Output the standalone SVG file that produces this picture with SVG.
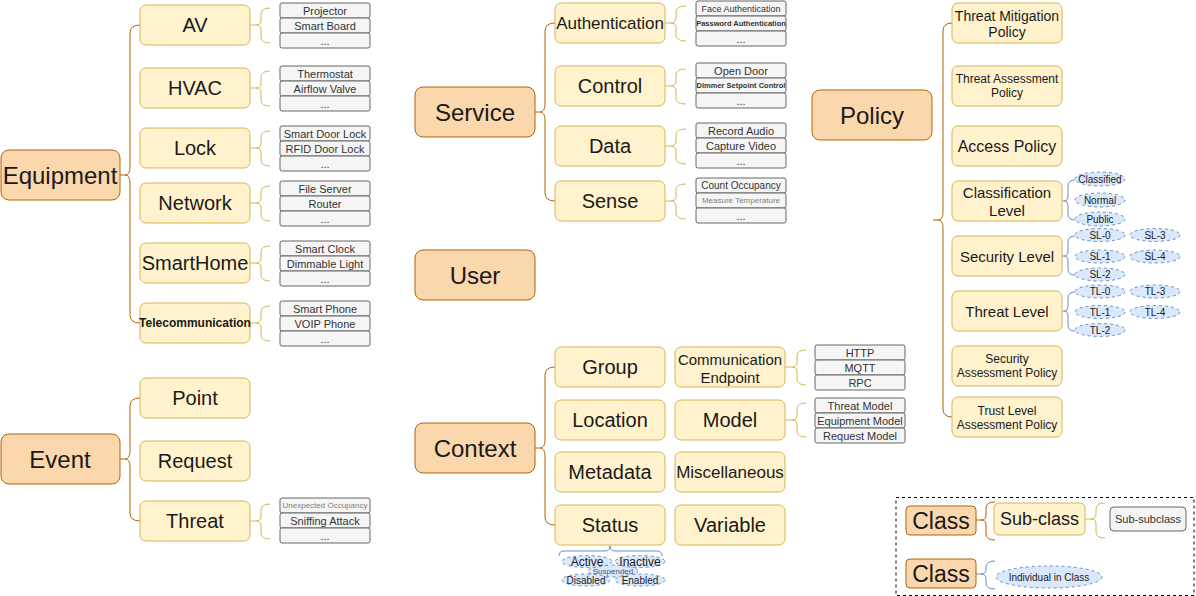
<svg xmlns="http://www.w3.org/2000/svg" width="1196" height="596" viewBox="0 0 1196 596">
<style>
.main{fill:#fad7ac;stroke:#b46504;stroke-width:1}
.sub{fill:#fff2cc;stroke:#d6b656;stroke-width:1}
.leaf{fill:#f5f5f5;stroke:#666666;stroke-width:1}
.ind{fill:#dae8fc;stroke:#6c8ebf;stroke-width:1;stroke-dasharray:3 3}
.bo{fill:none;stroke:#b46504;stroke-width:1}
.by{fill:none;stroke:#d6b656;stroke-width:1}
.bb{fill:none;stroke:#6c8ebf;stroke-width:1}
text{font-family:"Liberation Sans",Arial,sans-serif;text-anchor:middle;dominant-baseline:central;fill:#1a1a1a}
.t24{font-size:24px}.t23{font-size:23px}.t20{font-size:20px}.t18{font-size:18px}.t17{font-size:17px}.t16{font-size:16px}.t15{font-size:15px}.t14{font-size:14px}.t12{font-size:12px}
.l{font-size:11px;fill:#333333}.l10{font-size:10px;fill:#333333}.l9{font-size:9px;fill:#333333}.l8{font-size:8px;fill:#808080}.lb{font-size:7.5px;font-weight:bold;fill:#333333}
.e10{font-size:10px}.e12{font-size:12px}.e8{font-size:8px;fill:#555}
</style>
<g id="connectors">
<path class="bo" d="M140,25 Q130,25 130,33 V167 Q130,175 125,175 H120 M125,175 Q130,175 130,183 V315 Q130,323 140,323"/>
<path class="bo" d="M140,398 Q130,398 130,406 V451 Q130,459 125,459 H120 M125,459 Q130,459 130,467 V513 Q130,521 140,521"/>
<path class="bo" d="M555,23 Q545,23 545,31 V104 Q545,112 540,112 H535 M540,112 Q545,112 545,120 V193 Q545,201 555,201"/>
<path class="bo" d="M555,367 Q545,367 545,375 V440 Q545,448 540,448 H535 M540,448 Q545,448 545,456 V517 Q545,525 555,525"/>
<path class="bo" d="M952,23 Q943,23 943,31 V212 Q943,220 938,220 H933 M938,220 Q943,220 943,228 V409 Q943,417 952,417"/>
<path class="by" d="M270,8 Q261,8 261,14 V20 Q261,25 256,25 H250 M256,25 Q261,25 261,30 V37 Q261,43 270,43"/>
<path class="by" d="M270,71 Q261,71 261,77 V83 Q261,88 256,88 H250 M256,88 Q261,88 261,93 V100 Q261,106 270,106"/>
<path class="by" d="M270,131 Q261,131 261,137 V143 Q261,148 256,148 H250 M256,148 Q261,148 261,153 V160 Q261,166 270,166"/>
<path class="by" d="M270,186 Q261,186 261,192 V198 Q261,203 256,203 H250 M256,203 Q261,203 261,208 V215 Q261,221 270,221"/>
<path class="by" d="M270,246 Q261,246 261,252 V258 Q261,263 256,263 H250 M256,263 Q261,263 261,268 V275 Q261,281 270,281"/>
<path class="by" d="M270,306 Q261,306 261,312 V318 Q261,323 256,323 H250 M256,323 Q261,323 261,328 V335 Q261,341 270,341"/>
<path class="by" d="M270,504 Q261,504 261,510 V516 Q261,521 256,521 H250 M256,521 Q261,521 261,526 V533 Q261,539 270,539"/>
<path class="by" d="M686,6 Q676,6 676,12 V18 Q676,23 671,23 H665 M671,23 Q676,23 676,28 V35 Q676,41 686,41"/>
<path class="by" d="M686,69 Q676,69 676,75 V81 Q676,86 671,86 H665 M671,86 Q676,86 676,91 V98 Q676,104 686,104"/>
<path class="by" d="M686,129 Q676,129 676,135 V141 Q676,146 671,146 H665 M671,146 Q676,146 676,151 V158 Q676,164 686,164"/>
<path class="by" d="M686,184 Q676,184 676,190 V196 Q676,201 671,201 H665 M671,201 Q676,201 676,206 V213 Q676,219 686,219"/>
<path class="by" d="M806,350 Q797,350 797,356 V362 Q797,367 792,367 H785 M792,367 Q797,367 797,372 V379 Q797,385 806,385"/>
<path class="by" d="M806,403 Q797,403 797,409 V415 Q797,420 792,420 H785 M792,420 Q797,420 797,425 V431 Q797,437 806,437"/>
<path class="bb" d="M1075,180 Q1068,180 1068,186 V196 Q1068,201 1064,201 H1062 M1064,201 Q1068,201 1068,206 V214 Q1068,220 1075,220"/>
<path class="bb" d="M1075,236 Q1068,236 1068,242 V251 Q1068,256 1064,256 H1062 M1064,256 Q1068,256 1068,261 V269 Q1068,275 1075,275"/>
<path class="bb" d="M1075,292 Q1068,292 1068,298 V306 Q1068,311 1064,311 H1062 M1064,311 Q1068,311 1068,316 V325 Q1068,331 1075,331"/>
<path class="bb" d="M559,556 Q559,551 564,551 H605 Q610,551 610,546 Q610,551 615,551 H657 Q662,551 662,556"/>
<path class="bo" d="M995,502 Q986,502 986,508 V515 Q986,520 981,520 H976 M981,520 Q986,520 986,525 V534 Q986,540 995,540"/>
<path class="by" d="M1105,503 Q1096,503 1096,509 V514 Q1096,519 1091,519 H1085 M1091,519 Q1096,519 1096,524 V532 Q1096,538 1105,538"/>
<path class="bb" d="M995,561 Q986,561 986,567 V569 Q986,574 981,574 H976 M981,574 Q986,574 986,579 V583 Q986,589 995,589"/>
</g>

<g id="equipment"><rect class="main" x="1" y="150" width="119" height="50" rx="8"/><text class="t24" x="60" y="175">Equipment</text></g>
<g id="event"><rect class="main" x="1" y="434" width="119" height="50" rx="8"/><text class="t24" x="60" y="459">Event</text></g>
<g id="service"><rect class="main" x="415" y="87" width="120" height="50" rx="8"/><text class="t24" x="475" y="112">Service</text></g>
<g id="user"><rect class="main" x="415" y="250" width="120" height="50" rx="8"/><text class="t24" x="475" y="275">User</text></g>
<g id="context"><rect class="main" x="415" y="423" width="120" height="50" rx="8"/><text class="t24" x="475" y="448">Context</text></g>
<g id="policy"><rect class="main" x="812" y="90" width="120" height="50" rx="8"/><text class="t24" x="872" y="115">Policy</text></g>

<g id="av"><rect class="sub" x="140" y="5" width="110" height="40" rx="6"/><text class="t20" x="195" y="25">AV</text></g>
<g id="hvac"><rect class="sub" x="140" y="68" width="110" height="40" rx="6"/><text class="t20" x="195" y="88">HVAC</text></g>
<g id="lock"><rect class="sub" x="140" y="128" width="110" height="40" rx="6"/><text class="t20" x="195" y="148">Lock</text></g>
<g id="network"><rect class="sub" x="140" y="183" width="110" height="40" rx="6"/><text class="t20" x="195" y="203">Network</text></g>
<g id="smarthome"><rect class="sub" x="140" y="243" width="110" height="40" rx="6"/><text class="t20" x="195" y="263">SmartHome</text></g>
<g id="telecom"><rect class="sub" x="140" y="303" width="110" height="40" rx="6"/><text class="t12" x="195" y="323" font-weight="bold">Telecommunication</text></g>
<g id="point"><rect class="sub" x="140" y="378" width="110" height="40" rx="6"/><text class="t20" x="195" y="398">Point</text></g>
<g id="request"><rect class="sub" x="140" y="441" width="110" height="40" rx="6"/><text class="t20" x="195" y="461">Request</text></g>
<g id="threat"><rect class="sub" x="140" y="501" width="110" height="40" rx="6"/><text class="t20" x="195" y="521">Threat</text></g>

<g id="av-leaves">
<rect class="leaf" x="280" y="3" width="90" height="15" rx="2"/><text class="l" x="325" y="10.5">Projector</text>
<rect class="leaf" x="280" y="18" width="90" height="15" rx="2"/><text class="l" x="325" y="25.5">Smart Board</text>
<rect class="leaf" x="280" y="33" width="90" height="15" rx="2"/><text class="l" x="325" y="40.5">...</text>
</g>
<g id="hvac-leaves">
<rect class="leaf" x="280" y="66" width="90" height="15" rx="2"/><text class="l" x="325" y="73.5">Thermostat</text>
<rect class="leaf" x="280" y="81" width="90" height="15" rx="2"/><text class="l" x="325" y="88.5">Airflow Valve</text>
<rect class="leaf" x="280" y="96" width="90" height="15" rx="2"/><text class="l" x="325" y="103.5">...</text>
</g>
<g id="lock-leaves">
<rect class="leaf" x="280" y="126" width="90" height="15" rx="2"/><text class="l" x="325" y="133.5">Smart Door Lock</text>
<rect class="leaf" x="280" y="141" width="90" height="15" rx="2"/><text class="l" x="325" y="148.5">RFID Door Lock</text>
<rect class="leaf" x="280" y="156" width="90" height="15" rx="2"/><text class="l" x="325" y="163.5">...</text>
</g>
<g id="network-leaves">
<rect class="leaf" x="280" y="181" width="90" height="15" rx="2"/><text class="l" x="325" y="188.5">File Server</text>
<rect class="leaf" x="280" y="196" width="90" height="15" rx="2"/><text class="l" x="325" y="203.5">Router</text>
<rect class="leaf" x="280" y="211" width="90" height="15" rx="2"/><text class="l" x="325" y="218.5">...</text>
</g>
<g id="smarthome-leaves">
<rect class="leaf" x="280" y="241" width="90" height="15" rx="2"/><text class="l" x="325" y="248.5">Smart Clock</text>
<rect class="leaf" x="280" y="256" width="90" height="15" rx="2"/><text class="l" x="325" y="263.5">Dimmable Light</text>
<rect class="leaf" x="280" y="271" width="90" height="15" rx="2"/><text class="l" x="325" y="278.5">...</text>
</g>
<g id="telecom-leaves">
<rect class="leaf" x="280" y="301" width="90" height="15" rx="2"/><text class="l" x="325" y="308.5">Smart Phone</text>
<rect class="leaf" x="280" y="316" width="90" height="15" rx="2"/><text class="l" x="325" y="323.5">VOIP Phone</text>
<rect class="leaf" x="280" y="331" width="90" height="15" rx="2"/><text class="l" x="325" y="338.5">...</text>
</g>
<g id="threat-leaves">
<rect class="leaf" x="280" y="498" width="90" height="15" rx="2"/><text class="l8" x="325" y="505.5">Unexpected Occupancy</text>
<rect class="leaf" x="280" y="513" width="90" height="15" rx="2"/><text class="l" x="325" y="520.5">Sniffing Attack</text>
<rect class="leaf" x="280" y="528" width="90" height="15" rx="2"/><text class="l" x="325" y="535.5">...</text>
</g>

<g id="authentication"><rect class="sub" x="555" y="3" width="110" height="40" rx="6"/><text class="t17" x="610" y="23">Authentication</text></g>
<g id="control"><rect class="sub" x="555" y="66" width="110" height="40" rx="6"/><text class="t20" x="610" y="86">Control</text></g>
<g id="data"><rect class="sub" x="555" y="126" width="110" height="40" rx="6"/><text class="t20" x="610" y="146">Data</text></g>
<g id="sense"><rect class="sub" x="555" y="181" width="110" height="40" rx="6"/><text class="t20" x="610" y="201">Sense</text></g>

<g id="auth-leaves">
<rect class="leaf" x="696" y="1" width="90" height="15" rx="2"/><text class="l9" x="741" y="8.5">Face Authentication</text>
<rect class="leaf" x="696" y="16" width="90" height="15" rx="2"/><text class="lb" x="741" y="23.5">Password Authentication</text>
<rect class="leaf" x="696" y="31" width="90" height="15" rx="2"/><text class="l" x="741" y="38.5">...</text>
</g>
<g id="control-leaves">
<rect class="leaf" x="696" y="63" width="90" height="15" rx="2"/><text class="l" x="741" y="70.5">Open Door</text>
<rect class="leaf" x="696" y="78" width="90" height="15" rx="2"/><text class="lb" x="741" y="85.5">Dimmer Setpoint Control</text>
<rect class="leaf" x="696" y="93" width="90" height="15" rx="2"/><text class="l" x="741" y="100.5">...</text>
</g>
<g id="data-leaves">
<rect class="leaf" x="696" y="123" width="90" height="15" rx="2"/><text class="l" x="741" y="130.5">Record Audio</text>
<rect class="leaf" x="696" y="138" width="90" height="15" rx="2"/><text class="l" x="741" y="145.5">Capture Video</text>
<rect class="leaf" x="696" y="153" width="90" height="15" rx="2"/><text class="l" x="741" y="160.5">...</text>
</g>
<g id="sense-leaves">
<rect class="leaf" x="696" y="178" width="90" height="15" rx="2"/><text class="l10" x="741" y="185.5">Count Occupancy</text>
<rect class="leaf" x="696" y="193" width="90" height="15" rx="2"/><text class="l8" x="741" y="200.5">Measure Temperature</text>
<rect class="leaf" x="696" y="208" width="90" height="15" rx="2"/><text class="l" x="741" y="215.5">...</text>
</g>

<g id="group"><rect class="sub" x="555" y="347" width="110" height="40" rx="6"/><text class="t20" x="610" y="367">Group</text></g>
<g id="location"><rect class="sub" x="555" y="400" width="110" height="40" rx="6"/><text class="t20" x="610" y="420">Location</text></g>
<g id="metadata"><rect class="sub" x="555" y="452" width="110" height="40" rx="6"/><text class="t20" x="610" y="472">Metadata</text></g>
<g id="status"><rect class="sub" x="555" y="505" width="110" height="40" rx="6"/><text class="t20" x="610" y="525">Status</text></g>
<g id="comm-endpoint"><rect class="sub" x="675" y="347" width="110" height="40" rx="6"/><text class="t15" x="730" y="359">Communication</text><text class="t15" x="730" y="377">Endpoint</text></g>
<g id="model"><rect class="sub" x="675" y="400" width="110" height="40" rx="6"/><text class="t20" x="730" y="420">Model</text></g>
<g id="misc"><rect class="sub" x="675" y="452" width="110" height="40" rx="6"/><text class="t17" x="730" y="472">Miscellaneous</text></g>
<g id="variable"><rect class="sub" x="675" y="505" width="110" height="40" rx="6"/><text class="t20" x="730" y="525">Variable</text></g>

<g id="comm-leaves">
<rect class="leaf" x="815" y="345" width="90" height="15" rx="2"/><text class="l" x="860" y="352.5">HTTP</text>
<rect class="leaf" x="815" y="360" width="90" height="15" rx="2"/><text class="l" x="860" y="367.5">MQTT</text>
<rect class="leaf" x="815" y="375" width="90" height="15" rx="2"/><text class="l" x="860" y="382.5">RPC</text>
</g>
<g id="model-leaves">
<rect class="leaf" x="815" y="398" width="90" height="15" rx="2"/><text class="l" x="860" y="405.5">Threat Model</text>
<rect class="leaf" x="815" y="413" width="90" height="15" rx="2"/><text class="l" x="860" y="420.5">Equipment Model</text>
<rect class="leaf" x="815" y="428" width="90" height="15" rx="2"/><text class="l" x="860" y="435.5">Request Model</text>
</g>

<g id="status-individuals">
<ellipse class="ind" cx="613" cy="571" rx="25" ry="6"/><text class="e8" x="613" y="571">Suspended</text>
<ellipse class="ind" cx="587" cy="561.5" rx="25" ry="6"/><text class="e12" x="587" y="561.5">Active</text>
<ellipse class="ind" cx="640" cy="561.5" rx="25" ry="6"/><text class="e12" x="640" y="561.5">Inactive</text>
<ellipse class="ind" cx="586" cy="580" rx="24" ry="6"/><text class="e10" x="586" y="580">Disabled</text>
<ellipse class="ind" cx="640" cy="580" rx="25" ry="6"/><text class="e10" x="640" y="580">Enabled</text>
</g>

<g id="threat-mitigation"><rect class="sub" x="952" y="3" width="110" height="40" rx="6"/><text class="t14" x="1007" y="16">Threat Mitigation</text><text class="t14" x="1007" y="32">Policy</text></g>
<g id="threat-assessment"><rect class="sub" x="952" y="66" width="110" height="40" rx="6"/><text class="t12" x="1007" y="79">Threat Assessment</text><text class="t12" x="1007" y="93">Policy</text></g>
<g id="access-policy"><rect class="sub" x="952" y="126" width="110" height="40" rx="6"/><text class="t16" x="1007" y="146">Access Policy</text></g>
<g id="classification-level"><rect class="sub" x="952" y="181" width="110" height="40" rx="6"/><text class="t15" x="1007" y="192">Classification</text><text class="t15" x="1007" y="210">Level</text></g>
<g id="security-level"><rect class="sub" x="952" y="236" width="110" height="40" rx="6"/><text class="t15" x="1007" y="256">Security Level</text></g>
<g id="threat-level"><rect class="sub" x="952" y="291" width="110" height="40" rx="6"/><text class="t15" x="1007" y="311">Threat Level</text></g>
<g id="security-assessment"><rect class="sub" x="952" y="346" width="110" height="40" rx="6"/><text class="t12" x="1007" y="359">Security</text><text class="t12" x="1007" y="373">Assessment Policy</text></g>
<g id="trust-assessment"><rect class="sub" x="952" y="397" width="110" height="40" rx="6"/><text class="t12" x="1007" y="411">Trust Level</text><text class="t12" x="1007" y="425">Assessment Policy</text></g>

<g id="classification-individuals">
<ellipse class="ind" cx="1100" cy="179" rx="25" ry="7"/><text class="e10" x="1100" y="179">Classified</text>
<ellipse class="ind" cx="1100" cy="200" rx="25" ry="7"/><text class="e10" x="1100" y="200">Normal</text>
<ellipse class="ind" cx="1100" cy="219" rx="25" ry="7"/><text class="e10" x="1100" y="219">Public</text>
</g>
<g id="security-individuals">
<ellipse class="ind" cx="1100" cy="235" rx="25" ry="6.5"/><text class="e10" x="1100" y="235">SL-0</text>
<ellipse class="ind" cx="1155" cy="235" rx="25" ry="6.5"/><text class="e10" x="1155" y="235">SL-3</text>
<ellipse class="ind" cx="1100" cy="256.5" rx="25" ry="6.5"/><text class="e10" x="1100" y="256.5">SL-1</text>
<ellipse class="ind" cx="1155" cy="256.5" rx="25" ry="6.5"/><text class="e10" x="1155" y="256.5">SL-4</text>
<ellipse class="ind" cx="1100" cy="274.5" rx="25" ry="6.5"/><text class="e10" x="1100" y="274.5">SL-2</text>
</g>
<g id="threat-individuals">
<ellipse class="ind" cx="1100" cy="291.5" rx="25" ry="6.5"/><text class="e10" x="1100" y="291.5">TL-0</text>
<ellipse class="ind" cx="1155" cy="291.5" rx="25" ry="6.5"/><text class="e10" x="1155" y="291.5">TL-3</text>
<ellipse class="ind" cx="1100" cy="312" rx="25" ry="6.5"/><text class="e10" x="1100" y="312">TL-1</text>
<ellipse class="ind" cx="1155" cy="312" rx="25" ry="6.5"/><text class="e10" x="1155" y="312">TL-4</text>
<ellipse class="ind" cx="1100" cy="330" rx="25" ry="6.5"/><text class="e10" x="1100" y="330">TL-2</text>
</g>

<g id="legend">
<rect x="896" y="497.5" width="298" height="98" fill="none" stroke="#000" stroke-width="1" stroke-dasharray="3 3"/>
<rect class="main" x="906" y="506" width="70" height="29" rx="4"/><text class="t23" x="941" y="520.5">Class</text>
<rect class="sub" x="994" y="503" width="91" height="32" rx="5"/><text class="t18" x="1039.5" y="519">Sub-class</text>
<rect class="leaf" x="1110" y="507" width="76" height="24" rx="4"/><text class="l" x="1148" y="519">Sub-subclass</text>
<rect class="main" x="906" y="559" width="70" height="29" rx="4"/><text class="t23" x="941" y="573.5">Class</text>
<ellipse class="ind" cx="1049" cy="577" rx="53" ry="11"/><text class="e10" x="1049" y="577">Individual in Class</text>
</g>
</svg>
